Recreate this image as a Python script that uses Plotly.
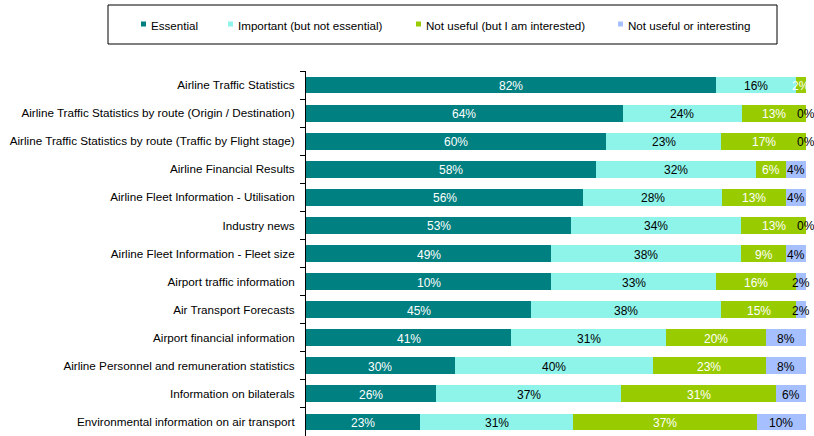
import plotly.graph_objects as go

categories = [
    "Airline Traffic Statistics",
    "Airline Traffic Statistics by route (Origin / Destination)",
    "Airline Traffic Statistics by route (Traffic by Flight stage)",
    "Airline Financial Results",
    "Airline Fleet Information - Utilisation",
    "Industry news",
    "Airline Fleet Information - Fleet size",
    "Airport traffic information",
    "Air Transport Forecasts",
    "Airport financial information",
    "Airline Personnel and remuneration statistics",
    "Information on bilaterals",
    "Environmental information on air transport",
]
series_names = ["Essential", "Important (but not essential)",
                "Not useful (but I am interested)", "Not useful or interesting"]

essential = [82, 64, 60, 58, 56, 53, 49, 49, 45, 41, 30, 26, 23]
important = [16, 24, 23, 32, 28, 34, 38, 33, 38, 31, 40, 37, 31]
not_useful = [2, 13, 17, 6, 13, 13, 9, 16, 15, 20, 23, 31, 37]
not_interesting = [0, 0, 0, 4, 4, 0, 4, 2, 2, 8, 8, 6, 10]

# data labels as printed on the chart
essential_label = [82, 64, 60, 58, 56, 53, 49, 10, 45, 41, 30, 26, 23]
important_label = important
not_useful_label = not_useful
not_interesting_label = [None, 0, 0, 4, 4, 0, 4, 2, 2, 8, 8, 6, 10]

colors = ["#008080", "#8EF4EA", "#99CC00", "#A6C0FF"]
label_colors = ["#FFFFFF", "#000000", "#FFFFFF", "#000000"]
FONT = "Liberation Sans, Arial, sans-serif"

values = [essential, important, not_useful, not_interesting]
labels = [essential_label, important_label, not_useful_label, not_interesting_label]

fig = go.Figure()
for name, vals, col in zip(series_names, values, colors):
    fig.add_trace(go.Bar(y=categories, x=vals, name=name, orientation="h",
                         marker=dict(color=col, line=dict(width=0)),
                         showlegend=False, hoverinfo="x+name"))

# data labels positioned at the centre of each normalised segment
annotations = []
for i, cat in enumerate(categories):
    total = sum(v[i] for v in values)
    cum = 0.0
    for s in range(4):
        w = values[s][i] / total * 100
        lab = labels[s][i]
        if lab is not None:
            annotations.append(dict(x=cum + w / 2, y=cat, xref="x", yref="y",
                                    text=f"{lab}%", showarrow=False, yshift=-1,
                                    font=dict(family=FONT, size=12, color=label_colors[s])))
        cum += w

# manual legend (layout coordinates in pixels -> paper)
L, R, T, B = 306, 806, 71, 436
def px_x(x):
    return (x - L) / (R - L)
def px_y(y):
    return (B - y) / (B - T)

shapes = [dict(type="rect", xref="paper", yref="paper",
               x0=px_x(108), x1=px_x(777), y0=px_y(44), y1=px_y(5),
               line=dict(color="#000000", width=1), fillcolor="rgba(0,0,0,0)")]
sq_x = [141, 228, 416, 618]
for name, col, sx in zip(series_names, colors, sq_x):
    shapes.append(dict(type="rect", xref="paper", yref="paper",
                       x0=px_x(sx), x1=px_x(sx + 5), y0=px_y(26.5), y1=px_y(21.5),
                       line=dict(width=0), fillcolor=col))
    annotations.append(dict(x=px_x(sx + 8), y=px_y(25.5), xref="paper", yref="paper",
                            text=name, showarrow=False, xanchor="left", yanchor="middle",
                            font=dict(family=FONT, size=11.6, color="#000000")))

fig.update_layout(
    width=814, height=436,
    margin=dict(l=L, r=814 - R, t=T, b=0),
    barmode="stack", barnorm="percent", bargap=0.4,
    plot_bgcolor="#FFFFFF", paper_bgcolor="#FFFFFF",
    font=dict(family=FONT, size=11.7, color="#000000"),
    xaxis=dict(range=[0, 100], visible=False, showgrid=False, zeroline=False),
    yaxis=dict(autorange="reversed", showline=True, linecolor="#000000", linewidth=1,
               ticks="outside", ticklen=5, tickcolor="#000000", tickson="boundaries",
               ticklabelstandoff=8,
               showgrid=False, tickfont=dict(family=FONT, size=11.7, color="#000000")),
    annotations=annotations, shapes=shapes,
)

fig.write_html("out.html", config={"displayModeBar": False},
               post_script="document.body.style.margin='0';document.body.style.overflow='hidden';")
